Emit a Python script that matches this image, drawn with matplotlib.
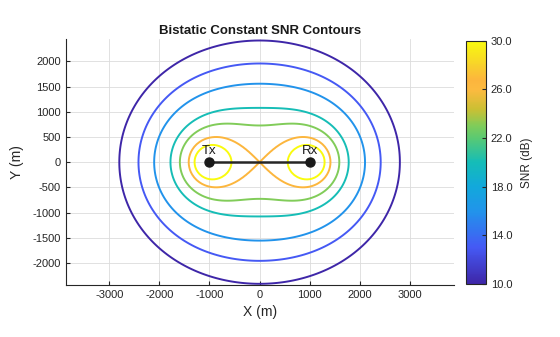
import numpy as np
import matplotlib
matplotlib.use("Agg")
import matplotlib.pyplot as plt
from matplotlib.colors import LinearSegmentedColormap

plt.rcParams['font.family'] = ['Liberation Sans', 'DejaVu Sans']
plt.rcParams['axes.unicode_minus'] = False

# radar geometry and contour settings
tx_pos = (-1000.0, 0.0)
rx_pos = (1000.0, 0.0)
site_labels = ["Tx", "Rx"]
snr_const_db = 146.7          # SNR = const - 20*log10(R1*R2)
snr_levels = [10.0, 13.0, 16.0, 20.0, 23.0, 26.7, 30.0]
cbar_ticks = [10, 14, 18, 22, 26, 30]
x_ticks = [-3000, -2000, -1000, 0, 1000, 2000, 3000]
y_ticks = [-2000, -1500, -1000, -500, 0, 500, 1000, 1500, 2000]

# rough parula
parula_pts = [(0.00, (0.2422, 0.1504, 0.6603)),
              (0.15, (0.27, 0.35, 0.96)),
              (0.30, (0.13, 0.58, 0.92)),
              (0.40, (0.07, 0.66, 0.86)),
              (0.50, (0.08, 0.74, 0.72)),
              (0.60, (0.35, 0.79, 0.45)),
              (0.65, (0.50, 0.80, 0.35)),
              (0.72, (0.80, 0.75, 0.20)),
              (0.80, (0.99, 0.73, 0.25)),
              (0.84, (0.99, 0.71, 0.24)),
              (0.90, (0.97, 0.82, 0.17)),
              (1.00, (0.9763, 0.9831, 0.0538))]
parula = LinearSegmentedColormap.from_list("parula", parula_pts)

xg = np.arange(-3900, 3901, 50.0)
yg = np.arange(-2500, 2501, 50.0)
X, Y = np.meshgrid(xg, yg)
r1 = np.hypot(X - tx_pos[0], Y - tx_pos[1])
r2 = np.hypot(X - rx_pos[0], Y - rx_pos[1])
snr = snr_const_db - 20 * np.log10(np.maximum(r1 * r2, 1.0))

fig = plt.figure(figsize=(5.6, 3.37), dpi=100)
ax = fig.add_axes([0.1173, 0.1543, 0.6934, 0.729])
cs = ax.contour(X, Y, snr, levels=snr_levels, cmap=parula, vmin=10, vmax=30,
                linewidths=1.4)

ax.plot([tx_pos[0], rx_pos[0]], [tx_pos[1], rx_pos[1]], color='#262626',
        lw=1.8, marker='o', ms=6.5, mfc='#1a1a1a', mec='#1a1a1a', zorder=5)
for (px, py), lab in zip([tx_pos, rx_pos], site_labels):
    ax.text(px, py + 110, lab, ha='center', va='bottom', fontsize=9.5,
            color='#1a1a1a')

ax.set_xlim(-3870, 3880)
ax.set_ylim(-2440, 2440)
ax.set_xticks(x_ticks)
ax.set_yticks(y_ticks)
ax.grid(True, color='#dcdcdc', lw=0.6)
ax.set_axisbelow(True)
for s in ['top', 'right']:
    ax.spines[s].set_visible(False)
for s in ['left', 'bottom']:
    ax.spines[s].set_color('#262626')
    ax.spines[s].set_linewidth(0.8)
ax.tick_params(direction='in', length=3, labelsize=8, colors='#262626')
ax.set_xlabel("X (m)", fontsize=10, color='#262626', labelpad=4)
ax.set_ylabel("Y (m)", fontsize=10, color='#262626', labelpad=6)
ax.set_title("Bistatic Constant SNR Contours", fontsize=9.5, fontweight='bold',
             color='#1a1a1a', pad=4)

cax = fig.add_axes([466 / 560, 1 - 284 / 337, 20 / 560, (284 - 40.7) / 337])
sm = plt.cm.ScalarMappable(cmap=parula, norm=plt.Normalize(10, 30))
cb = fig.colorbar(sm, cax=cax, ticks=cbar_ticks, format='%.1f')
cb.outline.set_edgecolor('#262626')
cb.outline.set_linewidth(0.8)
cax.tick_params(direction='in', length=3, labelsize=8, colors='#262626')
cb.set_label("SNR (dB)", fontsize=8.5, color='#262626', labelpad=6)

fig.savefig("out.png", dpi=100)
